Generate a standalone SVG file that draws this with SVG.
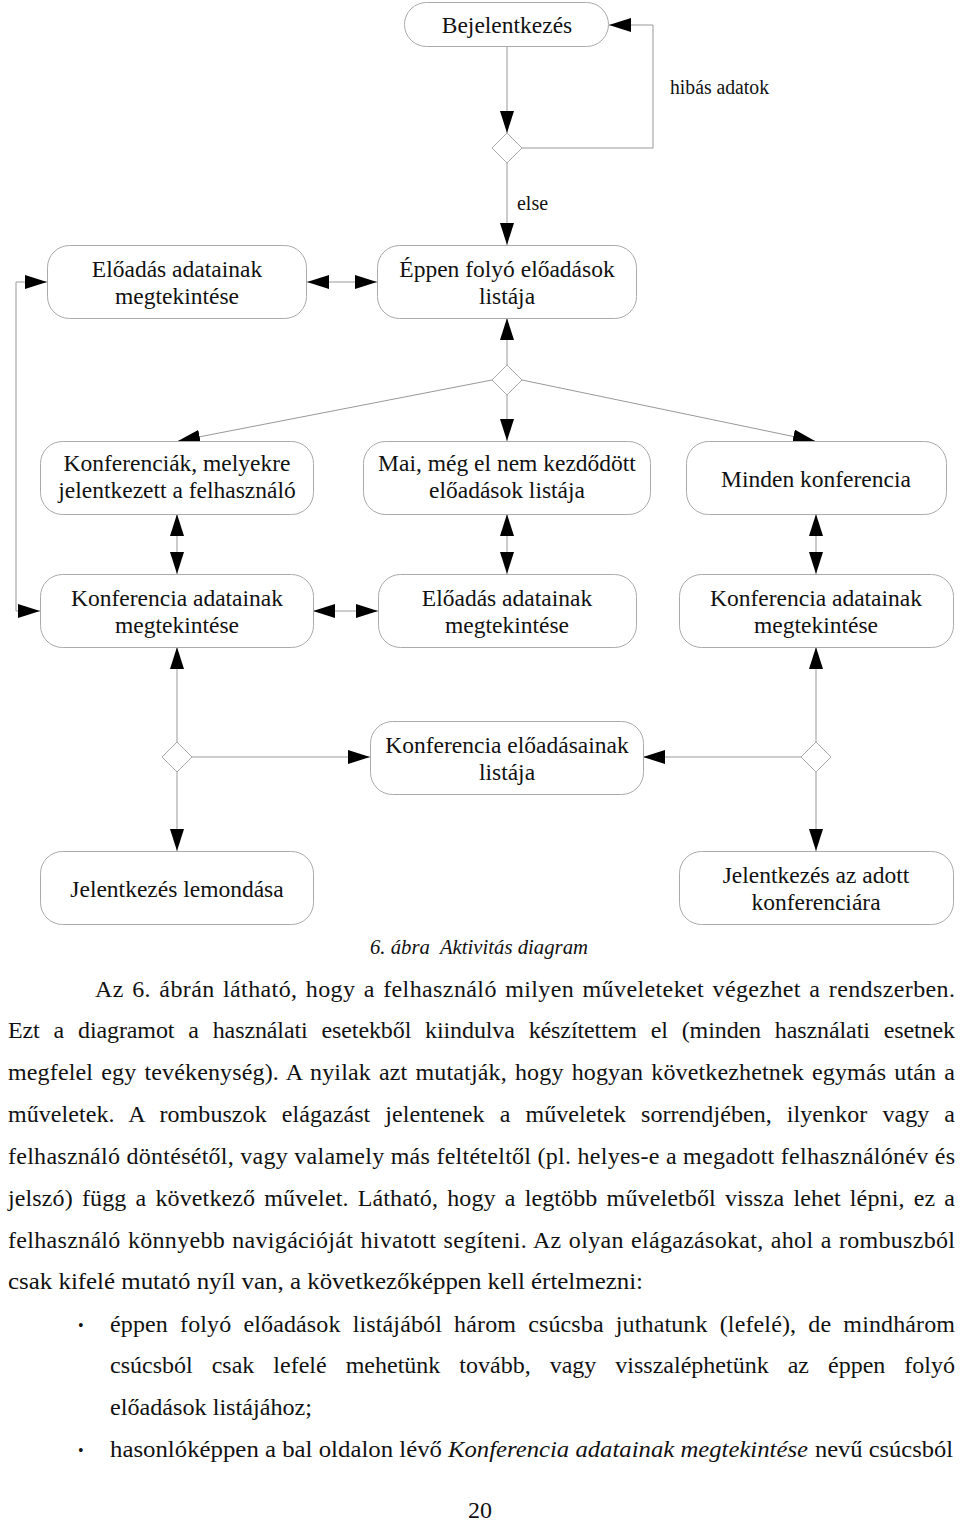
<svg xmlns="http://www.w3.org/2000/svg" width="960" height="1522" viewBox="0 0 960 1522">
<style>
.node{fill:#fff;stroke:#aaa;stroke-width:1}
.dia{fill:#fff;stroke:#aaa;stroke-width:1}
.nt{font-family:"Liberation Serif","Times New Roman",serif;font-size:23.5px;fill:#111;text-anchor:middle}
.lbl{font-family:"Liberation Serif","Times New Roman",serif;font-size:20px;fill:#111}
.con{fill:none;stroke:#999;stroke-width:1}
.body{font-family:"Liberation Serif","Times New Roman",serif;font-size:24px;fill:#111}
.it{font-style:italic}
</style>
<defs>
<marker id="ah" markerUnits="userSpaceOnUse" markerWidth="22" markerHeight="14" refX="22" refY="7" orient="auto-start-reverse" viewBox="0 0 22 14">
<path d="M0,0 L22,7 L0,14 z" fill="#000"/>
</marker>
</defs>

<g id="connectors">
<path class="con" d="M507,46 V133" marker-end="url(#ah)"/>
<path class="con" d="M522,148 H653 V25 H609" marker-end="url(#ah)"/>
<path class="con" d="M507,163 V245" marker-end="url(#ah)"/>
<path class="con" d="M307,282 H377" marker-start="url(#ah)" marker-end="url(#ah)"/>
<path class="con" d="M47,282 H16 V611 H40" marker-start="url(#ah)" marker-end="url(#ah)"/>
<path class="con" d="M507,366 V318" marker-end="url(#ah)"/>
<path class="con" d="M507,394 V441" marker-end="url(#ah)"/>
<path class="con" d="M492,380 L178,441" marker-end="url(#ah)"/>
<path class="con" d="M522,380 L815,441" marker-end="url(#ah)"/>
<path class="con" d="M177,514 V574" marker-start="url(#ah)" marker-end="url(#ah)"/>
<path class="con" d="M507,514 V574" marker-start="url(#ah)" marker-end="url(#ah)"/>
<path class="con" d="M816,514 V574" marker-start="url(#ah)" marker-end="url(#ah)"/>
<path class="con" d="M313,611 H378" marker-start="url(#ah)" marker-end="url(#ah)"/>
<path class="con" d="M177,743 V647" marker-end="url(#ah)"/>
<path class="con" d="M192,757 H370" marker-end="url(#ah)"/>
<path class="con" d="M177,772 V851" marker-end="url(#ah)"/>
<path class="con" d="M816,743 V647" marker-end="url(#ah)"/>
<path class="con" d="M801,757 H643" marker-end="url(#ah)"/>
<path class="con" d="M816,772 V851" marker-end="url(#ah)"/>
<text class="lbl" x="670" y="94" textLength="99" lengthAdjust="spacingAndGlyphs">hibás adatok</text>
<text class="lbl" x="517" y="210" textLength="31" lengthAdjust="spacingAndGlyphs">else</text>
</g>

<g id="n-bejelentkezes">
<rect class="node" x="404.5" y="2.5" width="204" height="44" rx="22"/>
<text class="nt" x="507" y="33">Bejelentkezés</text>
</g>
<g id="d-1"><path class="dia" d="M507,133 L522,148 L507,163 L492,148 z"/></g>

<g id="n-eloadas-adat-top">
<rect class="node" x="47.5" y="245.5" width="259" height="73" rx="22"/>
<text class="nt" x="177" y="277">Előadás adatainak</text>
<text class="nt" x="177" y="304">megtekintése</text>
</g>
<g id="n-eppen">
<rect class="node" x="377.5" y="245.5" width="259" height="73" rx="22"/>
<text class="nt" x="507" y="277">Éppen folyó előadások</text>
<text class="nt" x="507" y="304">listája</text>
</g>
<g id="d-2"><path class="dia" d="M507,365 L522,380 L507,395 L492,380 z"/></g>

<g id="n-konferenciak">
<rect class="node" x="40.5" y="441.5" width="273" height="73" rx="22"/>
<text class="nt" x="177" y="471">Konferenciák, melyekre</text>
<text class="nt" x="177" y="498">jelentkezett a felhasználó</text>
</g>
<g id="n-mai">
<rect class="node" x="363.5" y="441.5" width="287" height="73" rx="22"/>
<text class="nt" x="507" y="471">Mai, még el nem kezdődött</text>
<text class="nt" x="507" y="498">előadások listája</text>
</g>
<g id="n-minden">
<rect class="node" x="686.5" y="441.5" width="260" height="73" rx="22"/>
<text class="nt" x="816" y="487">Minden konferencia</text>
</g>

<g id="n-konf-adat-left">
<rect class="node" x="40.5" y="574.5" width="273" height="73" rx="22"/>
<text class="nt" x="177" y="606">Konferencia adatainak</text>
<text class="nt" x="177" y="633">megtekintése</text>
</g>
<g id="n-eloadas-adat-mid">
<rect class="node" x="378.5" y="574.5" width="258" height="73" rx="22"/>
<text class="nt" x="507" y="606">Előadás adatainak</text>
<text class="nt" x="507" y="633">megtekintése</text>
</g>
<g id="n-konf-adat-right">
<rect class="node" x="679.5" y="574.5" width="274" height="73" rx="22"/>
<text class="nt" x="816" y="606">Konferencia adatainak</text>
<text class="nt" x="816" y="633">megtekintése</text>
</g>

<g id="d-3"><path class="dia" d="M177,742 L192,757 L177,772 L162,757 z"/></g>
<g id="d-4"><path class="dia" d="M816,742 L831,757 L816,772 L801,757 z"/></g>
<g id="n-konf-eloadasai">
<rect class="node" x="370.5" y="721.5" width="273" height="73" rx="22"/>
<text class="nt" x="507" y="753">Konferencia előadásainak</text>
<text class="nt" x="507" y="780">listája</text>
</g>
<g id="n-lemondas">
<rect class="node" x="40.5" y="851.5" width="273" height="73" rx="22"/>
<text class="nt" x="177" y="897">Jelentkezés lemondása</text>
</g>
<g id="n-jelentkezes">
<rect class="node" x="679.5" y="851.5" width="274" height="73" rx="22"/>
<text class="nt" x="816" y="883">Jelentkezés az adott</text>
<text class="nt" x="816" y="910">konferenciára</text>
</g>

<g id="caption">
<text class="lbl it" x="370" y="954" textLength="218" lengthAdjust="spacingAndGlyphs">6. ábra&#160; Aktivitás diagram</text>
</g>

<g id="body-text">
<text class="body" x="95" y="997" textLength="860" lengthAdjust="spacing" style="word-spacing:2px">Az 6. ábrán látható, hogy a felhasználó milyen műveleteket végezhet a rendszerben.</text>
<text class="body" x="8" y="1038" textLength="947" lengthAdjust="spacing" style="word-spacing:8px">Ezt a diagramot a használati esetekből kiindulva készítettem el (minden használati esetnek</text>
<text class="body" x="8" y="1080" textLength="947" lengthAdjust="spacing" style="word-spacing:2px">megfelel egy tevékenység). A nyilak azt mutatják, hogy hogyan következhetnek egymás után a</text>
<text class="body" x="8" y="1122" textLength="947" lengthAdjust="spacing" style="word-spacing:9px">műveletek. A rombuszok elágazást jelentenek a műveletek sorrendjében, ilyenkor vagy a</text>
<text class="body" x="8" y="1164" textLength="947" lengthAdjust="spacing">felhasználó döntésétől, vagy valamely más feltételtől (pl. helyes-e a megadott felhasználónév és</text>
<text class="body" x="8" y="1206" textLength="947" lengthAdjust="spacing" style="word-spacing:3px">jelszó) függ a következő művelet. Látható, hogy a legtöbb műveletből vissza lehet lépni, ez a</text>
<text class="body" x="8" y="1248" textLength="947" lengthAdjust="spacing" style="word-spacing:1px">felhasználó könnyebb navigációját hivatott segíteni. Az olyan elágazásokat, ahol a rombuszból</text>
<text class="body" x="8" y="1289" textLength="635" lengthAdjust="spacingAndGlyphs">csak kifelé mutató nyíl van, a következőképpen kell értelmezni:</text>
<text class="body" x="78" y="1331" style="font-size:16px">•</text>
<text class="body" x="110" y="1332" textLength="845" lengthAdjust="spacing" style="word-spacing:6px">éppen folyó előadások listájából három csúcsba juthatunk (lefelé), de mindhárom</text>
<text class="body" x="110" y="1373" textLength="845" lengthAdjust="spacing" style="word-spacing:13px">csúcsból csak lefelé mehetünk tovább, vagy visszaléphetünk az éppen folyó</text>
<text class="body" x="110" y="1415" textLength="202" lengthAdjust="spacingAndGlyphs">előadások listájához;</text>
<text class="body" x="78" y="1456" style="font-size:16px">•</text>
<text class="body" x="110" y="1457" textLength="332" lengthAdjust="spacingAndGlyphs">hasonlóképpen a bal oldalon lévő</text>
<text class="body it" x="448" y="1457" textLength="360" lengthAdjust="spacingAndGlyphs">Konferencia adatainak megtekintése</text>
<text class="body" x="815" y="1457" textLength="138" lengthAdjust="spacingAndGlyphs">nevű csúcsból</text>
<text class="body" x="480" y="1518" text-anchor="middle">20</text>
</g>
</svg>
